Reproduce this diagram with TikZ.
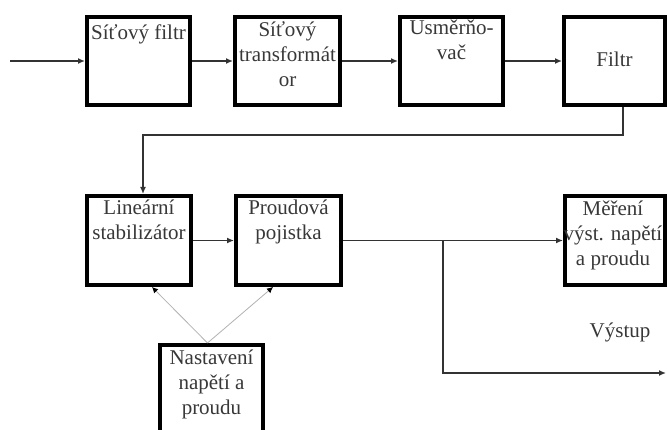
\documentclass[tikz,border=0pt]{standalone}
\usepackage{fontspec}
\setmainfont{Liberation Serif}
\usetikzlibrary{arrows.meta}
\begin{document}
\begin{tikzpicture}[x=1pt,y=1pt,
  blk/.style={draw=black, line width=4pt, minimum width=103pt,
    minimum height=88pt, inner sep=0pt},
  txt/.style={font=\fontsize{21}{25}\selectfont, text=black!78,
    align=center, inner sep=0pt, anchor=north,
    execute at begin node=\strut},
  conn/.style={draw=black!80, line width=1.4pt,
    -{Latex[length=7pt,width=6pt]}},
  fb/.style={draw=black!30, line width=0.8pt,
    -{Latex[length=6pt,width=6pt,black]}}]
\useasboundingbox (0,0) rectangle (667,430);
\fill[white] (0,0) rectangle (667,430);
\clip (0,0) rectangle (667,430);

% upper chain
\node[blk, minimum width=103pt] (sf) at (138.5,369) {};
\node[blk, minimum width=105pt] (st) at (287.5,369) {};
\node[blk, minimum width=103pt] (us) at (451.5,369) {};
\node[blk, minimum width=101pt] (fi) at (614.5,369) {};

% lower chain
\node[blk, minimum width=104pt, minimum height=89pt] (ls) at (139,189.5) {};
\node[blk, minimum width=105pt, minimum height=89pt] (pp) at (288.5,189.5) {};
\node[blk, minimum width=100pt, minimum height=89pt] (mv) at (615,189.5) {};
\node[blk, minimum width=103pt, minimum height=90pt] (nv) at (211.5,40) {};

% block captions
\node[txt] (sfT) at ([yshift=-6.5pt]sf.north) {Síťový filtr};
\node[txt] (stT) at ([yshift=-6.5pt]st.north) {Síťový\\transformát\\or};
\node[txt] (usT) at ([yshift=-5pt]us.north) {Usměrňo-\\vač};
\node[txt] (fiT) at ([yshift=-34pt]fi.north) {Filtr};
\node[txt] (lsT) at ([yshift=-6pt]ls.north) {Lineární\\stabilizátor};
\node[txt] (ppT) at ([yshift=-6pt]pp.north) {Proudová\\pojistka};
\node[txt] (mvT) at ([xshift=-2pt,yshift=-6.5pt]mv.north) {Měření\\výst. napětí\\a proudu};
\node[txt] (nvT) at ([yshift=-7pt]nv.north) {Nastavení\\napětí a\\proudu};
\node[txt] (vy) at (620,110) {Výstup};

% connectors
\coordinate (in) at (10,369);
\draw[conn] (in) -- (sf.west);
\draw[conn] (sf.east) -- (st.west);
\draw[conn] (st.east) -- (us.west);
\draw[conn] (us.east) -- (fi.west);
\draw[conn] ([xshift=8.5pt]fi.south) -- ++(0,-28) -| ([xshift=4pt]ls.north);
\draw[conn] (ls.east) -- (pp.west);
\draw[conn] (pp.east) -- (mv.west);
\coordinate (br) at (443,189.5);
\coordinate (out) at (666,57);
\draw[conn] (br) |- (out);

% setting inputs
\draw[fb] ([xshift=-4pt]nv.north) -- ([xshift=13pt]ls.south);
\draw[fb] ([xshift=-4pt]nv.north) -- ([xshift=-15.5pt]pp.south);
\end{tikzpicture}
\end{document}
